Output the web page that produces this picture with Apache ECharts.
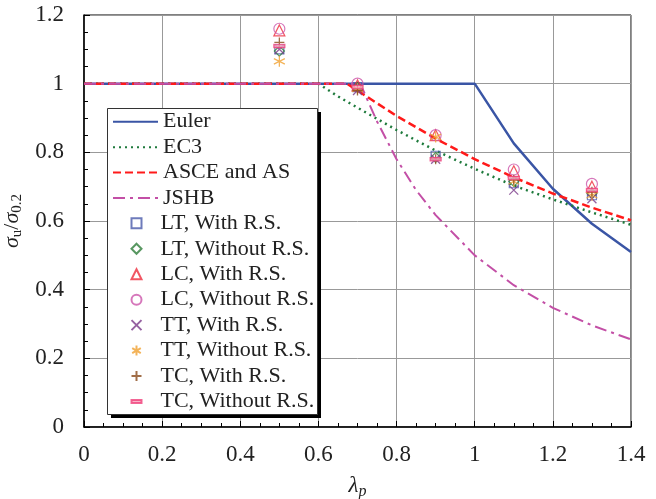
<!DOCTYPE html>
<html><head><meta charset="utf-8">
<script src="https://cdn.jsdelivr.net/npm/echarts@6/dist/echarts.min.js"></script>
<style>html,body{margin:0;padding:0;background:#fff}#c{width:656px;height:499px}</style>
</head><body><div id="c"></div>
<script>
var xTicks = [0, 0.2, 0.4, 0.6, 0.8, 1, 1.2, 1.4];
var yTicks = [0, 0.2, 0.4, 0.6, 0.8, 1, 1.2];

var euler = [[0,1],[1.0,1],[1.1,0.826],[1.2,0.694],[1.3,0.592],[1.4,0.51]];
var ec3 = [[0,1],[0.6,1],[0.65,0.963],[0.7,0.93],[0.8,0.865],[0.9,0.805],[1.0,0.752],[1.1,0.703],[1.2,0.663],[1.3,0.625],[1.4,0.589]];
var asce = [[0,1],[0.673,1],[0.7,0.98],[0.8,0.906],[0.9,0.84],[1.0,0.78],[1.1,0.727],[1.2,0.68],[1.3,0.639],[1.4,0.602]];
var jshb = [[0,1],[0.707,1],[0.75,0.89],[0.8,0.78],[0.85,0.69],[0.9,0.617],[1.0,0.5],[1.1,0.413],[1.2,0.347],[1.3,0.296],[1.4,0.255]];

var ltWith = [[0.5,1.10],[0.7,0.99],[0.9,0.79],[1.1,0.71],[1.3,0.675]];
var ltWithout = [[0.5,1.095],[0.7,0.99],[0.9,0.785],[1.1,0.715],[1.3,0.68]];
var lcWith = [[0.5,1.155],[0.7,0.995],[0.9,0.85],[1.1,0.745],[1.3,0.70]];
var lcWithout = [[0.5,1.16],[0.7,1.0],[0.9,0.85],[1.1,0.75],[1.3,0.708]];
var ttWith = [[0.5,1.10],[0.7,0.98],[0.9,0.78],[1.1,0.69],[1.3,0.665]];
var ttWithout = [[0.5,1.065],[0.7,0.985],[0.9,0.845],[1.1,0.715],[1.3,0.675]];
var tcWith = [[0.5,1.12],[0.7,0.98],[0.9,0.78],[1.1,0.72],[1.3,0.685]];
var tcWithout = [[0.5,1.11],[0.7,0.99],[0.9,0.78],[1.1,0.725],[1.3,0.69]];

var FONT = '"Liberation Serif", "Times New Roman", serif';
var chart = echarts.init(document.getElementById('c'), null, {renderer:'canvas'});

function lineS(name, data, color, type, width) {
  return {name:name, type:'line', data:data, symbol:'none', smooth:false,
    lineStyle:{color:color, width:width, type:type}, itemStyle:{color:color}, z:3};
}
function scat(name, data, symbol, color, size, fill, bw) {
  return {name:name, type:'scatter', data:data, symbol:symbol, symbolSize:size,
    itemStyle:{color:fill, borderColor:color, borderWidth:bw}, z:4};
}
var lineNames = ['Euler','EC3','ASCE and AS','JSHB'];
var ptNames = ['LT, With R.S.','LT, Without R.S.','LC, With R.S.','LC, Without R.S.','TT, With R.S.','TT, Without R.S.','TC, With R.S.','TC, Without R.S.'];

var option = {
  backgroundColor:'#fff',
  animation:false,
  grid:{left:84, right:25, top:15, bottom:72, show:true, borderColor:'#000', borderWidth:1,
    outerBoundsMode:'none', containLabel:false},
  xAxis:{type:'value', min:0, max:1.4, interval:0.2,
    axisLine:{lineStyle:{color:'#000', width:1.5}},
    axisTick:{inside:true, length:6, lineStyle:{color:'#000'}},
    minorTick:{show:true, splitNumber:4, length:4, lineStyle:{color:'#000'}},
    splitLine:{show:true, lineStyle:{color:'#999', width:1}},
    axisLabel:{fontFamily:FONT, fontSize:23, color:'#222', margin:16,
      formatter:function(v){return String(Math.round(v*10)/10);}},
    name:'{i|λ}{s|p}', nameLocation:'middle', nameGap:45,
    nameTextStyle:{rich:{i:{fontFamily:FONT, fontStyle:'italic', fontSize:23, color:'#222'},
      s:{fontFamily:FONT, fontStyle:'italic', fontSize:16, color:'#222', padding:[12,0,0,0]}}}
  },
  yAxis:{type:'value', min:0, max:1.2, interval:0.2,
    axisLine:{show:true, lineStyle:{color:'#000', width:1.5}},
    axisTick:{show:true, inside:true, length:6, lineStyle:{color:'#000'}},
    minorTick:{show:true, splitNumber:4, length:4, lineStyle:{color:'#000'}},
    splitLine:{show:true, lineStyle:{color:'#999', width:1}},
    axisLabel:{fontFamily:FONT, fontSize:23, color:'#222', margin:20,
      formatter:function(v){return String(Math.round(v*10)/10);}},
    name:'{i|σ}{s|u}{n|/}{i|σ}{s|0.2}', nameLocation:'middle', nameGap:50, nameRotate:90,
    nameTextStyle:{rich:{i:{fontFamily:FONT, fontStyle:'italic', fontSize:22, color:'#222'},
      n:{fontFamily:FONT, fontSize:22, color:'#222'},
      s:{fontFamily:FONT, fontSize:15, color:'#222', padding:[10,0,0,0]}}}
  },
  graphic:[
    {type:'rect', shape:{x:111, y:112, width:210, height:306}, style:{fill:'#000'}, z:10, silent:true},
    {type:'rect', shape:{x:107.5, y:108.5, width:210, height:306}, style:{fill:'#fff', stroke:'#333', lineWidth:1}, z:10, silent:true}
  ],
  legend:[
    {data:lineNames, orient:'vertical', left:112, top:110.7, padding:0, itemWidth:45, itemHeight:14, itemGap:3.45, itemTextGap:3, z:20,
      itemStyle:{opacity:0},
      textStyle:{fontFamily:FONT, fontSize:22, color:'#222', lineHeight:22}},
    {data:ptNames, orient:'vertical', left:129, top:212.3, padding:0, itemWidth:10, itemHeight:10, itemGap:3.45, itemTextGap:21, z:20,
      textStyle:{fontFamily:FONT, fontSize:22, color:'#222', lineHeight:22, padding:[0,0,0,14]}}
  ],
  series:[
    lineS('Euler', euler, '#3a55a5', 'solid', 2.5),
    lineS('EC3', ec3, '#1e7a3c', [2,4], 2.5),
    lineS('ASCE and AS', asce, '#ff1a1a', [8,4], 2.5),
    lineS('JSHB', jshb, '#c34fa6', [12,5,3,5], 2),
    scat('LT, With R.S.', ltWith, 'rect', '#4a5aaa', 9, 'rgba(255,255,255,0)', 1.2),
    scat('LT, Without R.S.', ltWithout, 'diamond', '#2e7d3a', 10, 'rgba(255,255,255,0)', 1.2),
    scat('LC, With R.S.', lcWith, 'triangle', '#ee2c3c', 11, 'rgba(255,255,255,0)', 1.2),
    scat('LC, Without R.S.', lcWithout, 'circle', '#cc55aa', 11, 'rgba(255,255,255,0)', 1.2),
    scat('TT, With R.S.', ttWith, 'path://M0,0L10,10M0,10L10,0', '#7a3a8a', 9, 'none', 1.3),
    scat('TT, Without R.S.', ttWithout, 'path://M5,0L5,10M0.7,2.5L9.3,7.5M0.7,7.5L9.3,2.5', '#f0a030', 11, 'none', 1.3),
    scat('TC, With R.S.', tcWith, 'path://M5,0L5,10M0,5L10,5', '#8a4a1a', 10, 'none', 1.3),
    scat('TC, Without R.S.', tcWithout, 'path://M0,0M10,10M0,3.5L10,3.5L10,6.5L0,6.5Z', '#f0407a', 11, '#f7a0bb', 1.2)
  ]
};
chart.setOption(option);
</script></body></html>
